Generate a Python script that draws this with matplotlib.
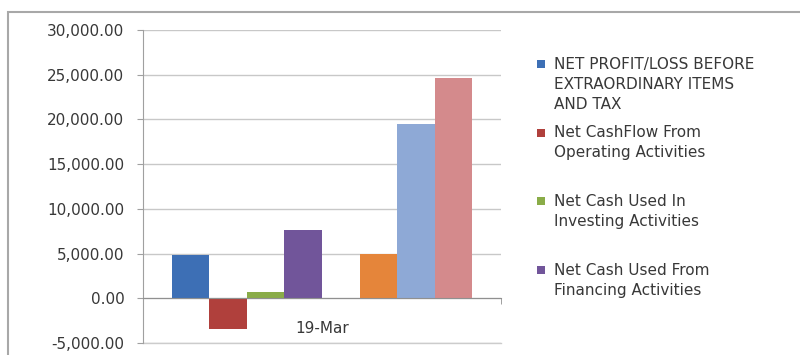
import numpy as np
import matplotlib
matplotlib.use("Agg")
import matplotlib.pyplot as plt
from matplotlib.patches import Rectangle
from matplotlib.ticker import FuncFormatter, MultipleLocator

plt.rcParams['font.family'] = ['DejaVu Sans']

category = "19-Mar"
series_names = [
    "NET PROFIT/LOSS BEFORE\nEXTRAORDINARY ITEMS\nAND TAX",
    "Net CashFlow From\nOperating Activities",
    "Net Cash Used In\nInvesting Activities",
    "Net Cash Used From\nFinancing Activities",
    "", "", "", "",
]
values = [4800, -3400, 700, 7600, 0, 4900, 19500, 24600]
colors = ["#3d6fb5", "#b0403c", "#8aac48", "#71559a",
          "#4bacc6", "#e5853a", "#8ea9d6", "#d48a8c"]
n_legend = 4

fig = plt.figure(figsize=(8, 3.55), dpi=100)
ax = fig.add_axes([0.17875, 0.0338, 0.4475, 0.8817])

bw = 0.105
offsets = (np.arange(len(values)) - (len(values) - 1) / 2) * bw
bars = []
for off, v, c in zip(offsets, values, colors):
    bars.append(ax.bar(off, v, width=bw, color=c, zorder=3)[0])

ax.set_xlim(-0.5, 0.5)
ax.set_ylim(-5000, 30000)
ax.yaxis.set_major_locator(MultipleLocator(5000))
ax.yaxis.set_major_formatter(FuncFormatter(lambda v, p: f"{v:,.2f}"))
ax.grid(axis='y', color='#c8c8c8', lw=1.0, zorder=0)

for s in ['top', 'right']:
    ax.spines[s].set_visible(False)
ax.spines['left'].set_color('#a0a0a0')
ax.spines['bottom'].set_position(('data', 0))
ax.spines['bottom'].set_color('#909090')
ax.spines['bottom'].set_zorder(4)
# bottom gridline at -5,000 sits on the axes edge
ax.axhline(-5000, color='#cccccc', lw=1.0, zorder=1, clip_on=False)

ax.set_xticks([0])
ax.set_xticklabels([category])
ax.set_xticks([-0.5, 0.5], minor=True)
ax.tick_params(axis='x', which='major', length=0, pad=16, labelsize=11,
               labelcolor='#383838')
ax.tick_params(axis='x', which='minor', length=4, color='#909090')
ax.tick_params(axis='y', length=4.5, pad=9, color='#a0a0a0', labelsize=11,
               labelcolor='#383838')

# legend drawn by hand so each marker sits on the first line of its entry
for i in range(n_legend):
    y0 = 1 - (64 + i * 68.7) / 355
    fig.add_artist(Rectangle((536.5 / 800, y0 - 4 / 355), 8 / 800, 8 / 355,
                             transform=fig.transFigure,
                             color=colors[i], lw=0))
    fig.text(554 / 800, y0 + 7.5 / 355, series_names[i], va='top', ha='left',
             fontsize=11, color='#383838', linespacing=1.42)

# outer chart frame
fig.add_artist(Rectangle((8 / 800, -0.1), 1.2, 1.1 - 12 / 355,
                         transform=fig.transFigure, fill=False,
                         edgecolor='#a8a8a8', lw=1.5))

fig.savefig("out.png", dpi=100)
